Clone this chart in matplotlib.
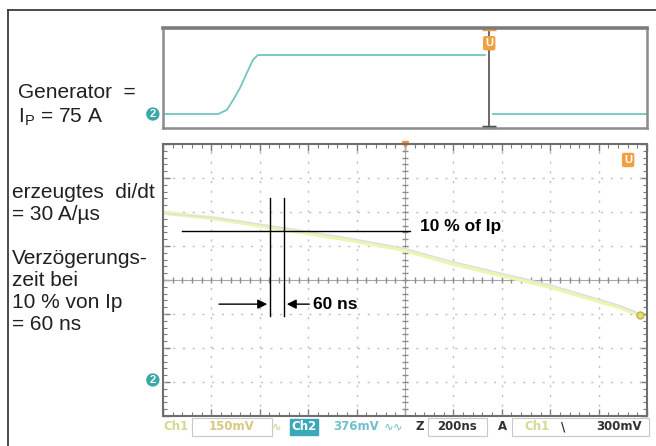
import numpy as np
import matplotlib
matplotlib.use("Agg")
import matplotlib.pyplot as plt
from matplotlib.lines import Line2D
from matplotlib.patches import Rectangle

plt.rcParams["font.family"] = ["Liberation Sans", "DejaVu Sans"]
plt.rcParams["mathtext.fontset"] = "custom"
plt.rcParams["mathtext.rm"] = "Liberation Sans"

# generator pulse (top screen), x in divisions, y relative (0 = base, 1 = top)
gen_x = [0.0, 1.14, 1.32, 1.45, 1.59, 1.74, 1.86, 1.96, 6.65]
gen_y = [0.0, 0.0, 0.07, 0.24, 0.44, 0.71, 0.92, 1.0, 1.0]
gen_tail_x = [6.82, 10.0]
gen_tail_y = [0.0, 0.0]
cursor_x = 6.74

# zoomed trace (bottom screen), x and y in divisions
ch1_x = [0.05, 1.03, 2.2, 3.86, 5.0, 5.93, 8.0, 9.44, 9.86]
ch1_y = [1.97, 1.82, 1.56, 1.18, 0.88, 0.5, -0.2, -0.8, -1.03]
ch2_y = [1.95, 1.84, 1.6, 1.23, 0.93, 0.56, -0.14, -0.75, -1.0]

# measurement marks
level_10 = 1.44
level_x = [0.39, 5.10]
t_start, t_end = 2.21, 2.50
cursor_y = [-1.06, 2.41]

fig = plt.figure(figsize=(6.56, 4.46), dpi=100)
W, H = 656, 446

def frac(x0, y0, x1, y1):
    return [x0 / W, 1 - y1 / H, (x1 - x0) / W, (y1 - y0) / H]

# outer frame
fig.add_artist(Line2D([8 / W, 1.0], [1 - 10 / H] * 2, color="#3c3c3c", lw=1.3))
fig.add_artist(Line2D([8 / W] * 2, [0, 1 - 10 / H], color="#3c3c3c", lw=1.3))

# ---- top screen
ax1 = fig.add_axes(frac(163, 28, 647, 128))
ax1.set_xlim(0, 10)
ax1.set_ylim(-0.237, 1.458)
ax1.set_xticks([])
ax1.set_yticks([])
for s in ax1.spines.values():
    s.set_color("#8c8c8c")
    s.set_linewidth(1.8)
ax1.spines["top"].set_linewidth(2.6)
ax1.spines["top"].set_color("#7c7c7c")
ax1.plot(gen_x, gen_y, color="#72c6bd", lw=1.3)
ax1.plot(gen_tail_x, gen_tail_y, color="#72c6bd", lw=1.3)
ax1.plot([cursor_x, cursor_x], [-0.237, 1.458], color="#505050", lw=1.2)
ax1.plot([cursor_x], [-0.22], marker="_", ms=10, mew=2.5, color="#505050", clip_on=False)
ax1.plot([cursor_x], [1.44], marker="_", ms=10, mew=2.5, color="#f0a040", clip_on=False)
ax1.text(cursor_x, 1.2, "U", color="white", fontsize=8, fontweight="bold",
         ha="center", va="center",
         bbox=dict(boxstyle="round,pad=0.2", fc="#f0a040", ec="none"))
ax1.text(-0.21, 0.0, "2", color="white", fontsize=8, fontweight="bold",
         ha="center", va="center", clip_on=False,
         bbox=dict(boxstyle="circle,pad=0.15", fc="#3aa8a8", ec="none"))

# ---- bottom screen
ax2 = fig.add_axes(frac(163, 144, 647, 416))
ax2.set_xlim(0, 10)
ax2.set_ylim(-4, 4)
ax2.set_xticks(np.arange(0, 11, 1))
ax2.set_yticks(np.arange(-4, 5, 1))
ax2.set_xticks(np.arange(0, 10.01, 0.2), minor=True)
ax2.set_yticks(np.arange(-4, 4.01, 0.2), minor=True)
ax2.tick_params(which="both", direction="in", top=True, right=True,
                labelbottom=False, labelleft=False, color="#7a7a7a")
ax2.tick_params(which="major", length=5, width=1)
ax2.tick_params(which="minor", length=3, width=0.8)
for s in ax2.spines.values():
    s.set_color("#6e6e6e")
    s.set_linewidth(1.5)

for gx in range(1, 10):
    if gx != 5:
        ax2.axvline(gx, color="#bdbdbd", lw=1, ls=(0, (1.5, 5.5)))
for gy in range(-3, 4):
    if gy != 0:
        ax2.axhline(gy, color="#bdbdbd", lw=1, ls=(0, (1.5, 5.5)))
ax2.axhline(0, color="#a8a8a8", lw=0.8)
ax2.axvline(5, color="#a8a8a8", lw=0.8)
mx = np.arange(0, 10.01, 0.2)
my = np.arange(-4, 4.01, 0.2)
ax2.plot(mx, np.zeros_like(mx), ls="none", marker="|", ms=5, color="#8c8c8c")
ax2.plot(np.full_like(my, 5.0), my, ls="none", marker="_", ms=5, color="#8c8c8c")

ax2.plot(ch1_x, ch1_y, color="#eef3b0", lw=3.0, solid_capstyle="round")
ax2.plot(ch1_x, ch2_y, color="#d4ddf2", lw=0.8)
ax2.plot([ch1_x[-1]], [ch1_y[-1]], marker="o", ms=5, color="#e0e070", mec="#c0b050")

ax2.plot([5], [4], marker="v", ms=5, color="#f09040", clip_on=False)
ax2.text(9.61, 3.53, "U", color="white", fontsize=8, fontweight="bold",
         ha="center", va="center",
         bbox=dict(boxstyle="round,pad=0.2", fc="#f0a040", ec="none"))
ax2.text(-0.21, -2.94, "2", color="white", fontsize=8, fontweight="bold",
         ha="center", va="center", clip_on=False,
         bbox=dict(boxstyle="circle,pad=0.15", fc="#3aa8a8", ec="none"))

# measurement lines
ax2.plot(level_x, [level_10, level_10], color="black", lw=1)
ax2.plot([t_start, t_start], cursor_y, color="black", lw=1)
ax2.plot([t_end, t_end], cursor_y, color="black", lw=1)
ax2.annotate("", xy=(t_start, -0.71), xytext=(1.10, -0.71),
             arrowprops=dict(arrowstyle="-|>", color="black", lw=1, mutation_scale=14))
ax2.annotate("", xy=(t_end, -0.71), xytext=(3.08, -0.71),
             arrowprops=dict(arrowstyle="-|>", color="black", lw=1, mutation_scale=14))
ax2.text(5.31, 1.56, "10 % of Ip", fontsize=12.5, fontweight="bold", va="center")
ax2.text(3.10, -0.71, "60 ns", fontsize=12.5, fontweight="bold", va="center")

# status bar
sy = 1 - 427 / H
def box(x0, x1):
    fig.add_artist(Rectangle((x0 / W, 1 - 436 / H), (x1 - x0) / W, 18 / H,
                             transform=fig.transFigure, fill=False,
                             ec="#c8c8c8", lw=0.8))
box(192, 272)
box(428, 487)
box(512, 649)
fig.add_artist(Rectangle((290 / W, 1 - 435 / H), 28 / W, 16 / H,
                         transform=fig.transFigure, color="#3aa8b8"))
st = dict(fontsize=8.5, fontweight="bold", va="center", family="DejaVu Sans")
fig.text(163 / W, sy, "Ch1", color="#d4d890", **st)
fig.text(209 / W, sy, "150mV", color="#d8c880", **st)
fig.text(272 / W, sy, "∿", color="#d8d890", **st)
fig.text(291 / W, sy, "Ch2", color="white", **st)
fig.text(333 / W, sy, "376mV", color="#70c0cc", **st)
fig.text(384 / W, sy, "∿∿", color="#90c8d0", **st)
fig.text(416 / W, sy, "Z", color="#303030", **st)
fig.text(437 / W, sy, "200ns", color="#303030", **st)
fig.text(498 / W, sy, "A", color="#303030", **st)
fig.text(524 / W, sy, "Ch1", color="#d4d890", **st)
fig.text(561 / W, sy, "\\", color="#303030", **st)
fig.text(596 / W, sy, "300mV", color="#303030", **st)

# left captions
lt = dict(fontsize=15, va="center", color="#202020")
fig.text(18 / W, 1 - 92 / H, "Generator  =", **lt)
fig.text(18 / W, 1 - 117 / H, "I$_\\mathregular{P}$ = 75 A", **lt)
fig.text(12 / W, 1 - 193 / H, "erzeugtes  di/dt", **lt)
fig.text(12 / W, 1 - 215 / H, "= 30 A/µs", **lt)
fig.text(12 / W, 1 - 258 / H, "Verzögerungs-", **lt)
fig.text(12 / W, 1 - 280 / H, "zeit bei", **lt)
fig.text(12 / W, 1 - 302 / H, "10 % von Ip", **lt)
fig.text(12 / W, 1 - 324 / H, "= 60 ns", **lt)

fig.savefig("out.png", dpi=100)
